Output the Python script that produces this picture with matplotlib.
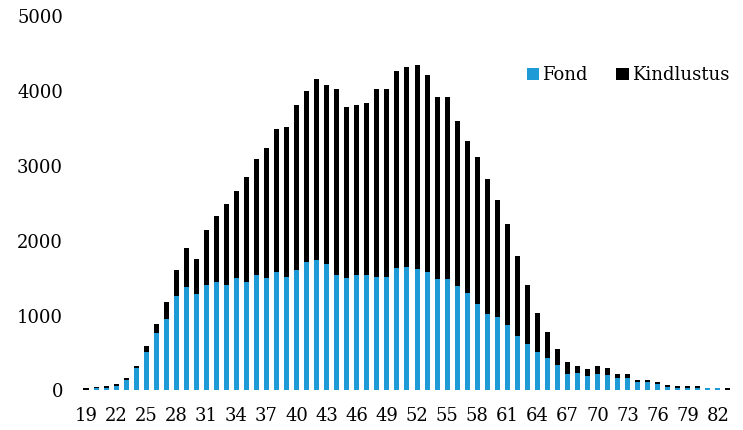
import numpy as np
import matplotlib.pyplot as plt

# ages 19..83, values
ages = list(range(19, 84))
fond = [5, 35, 35, 60, 135, 295, 510, 772, 958, 1256,
        1384, 1283, 1411, 1443, 1411, 1495, 1447, 1544, 1496, 1576,
        1518, 1603, 1710, 1736, 1683, 1544, 1496, 1544, 1544, 1518,
        1518, 1630, 1650, 1625, 1576, 1491, 1491, 1390, 1305, 1149,
        1016, 985, 878, 723, 616, 510, 430, 344, 220, 238,
        190, 220, 211, 163, 163, 118, 118, 83, 51, 38,
        38, 38, 38, 32, 0]
kindlustus = [30, 15, 20, 25, 30, 28, 80, 111, 218, 351,
              512, 474, 725, 884, 1072, 1170, 1409, 1547, 1734, 1915,
              2000, 2213, 2293, 2427, 2400, 2480, 2288, 2272, 2299, 2506,
              2506, 2634, 2668, 2719, 2640, 2427, 2427, 2208, 2031, 1969,
              1813, 1551, 1338, 1066, 795, 528, 346, 214, 156, 85,
              101, 103, 85, 53, 53, 18, 18, 27, 27, 18,
              18, 18, 0, 0, 38]
tick_ages = list(range(19, 84, 3))
yticks = [0, 1000, 2000, 3000, 4000, 5000]

plt.rcParams['font.family'] = ['DejaVu Serif']

fig = plt.figure(figsize=(7.43, 4.30), dpi=100)
ax = fig.add_axes([0.109, 0.092, 0.8775, 0.871])

ax.bar(ages, fond, width=0.5, color='#1e9bd7', label='Fond')
ax.bar(ages, kindlustus, width=0.5, bottom=fond, color='black', label='Kindlustus')

ax.set_xlim(18.5, 83.5)
ax.set_ylim(0, 5000)
ax.set_xticks(tick_ages)
ax.set_yticks(yticks)
ax.tick_params(axis='both', length=0, labelsize=13)
ax.tick_params(axis='x', pad=12)
ax.tick_params(axis='y', pad=13)
for s in ax.spines.values():
    s.set_visible(False)

ax.legend(loc='upper right', bbox_to_anchor=(1.005, 0.885), ncol=2, frameon=False,
          fontsize=13, handlelength=0.7, handleheight=0.7, handletextpad=0.15,
          columnspacing=1.6, borderaxespad=0)

fig.savefig('out.png', dpi=100)
